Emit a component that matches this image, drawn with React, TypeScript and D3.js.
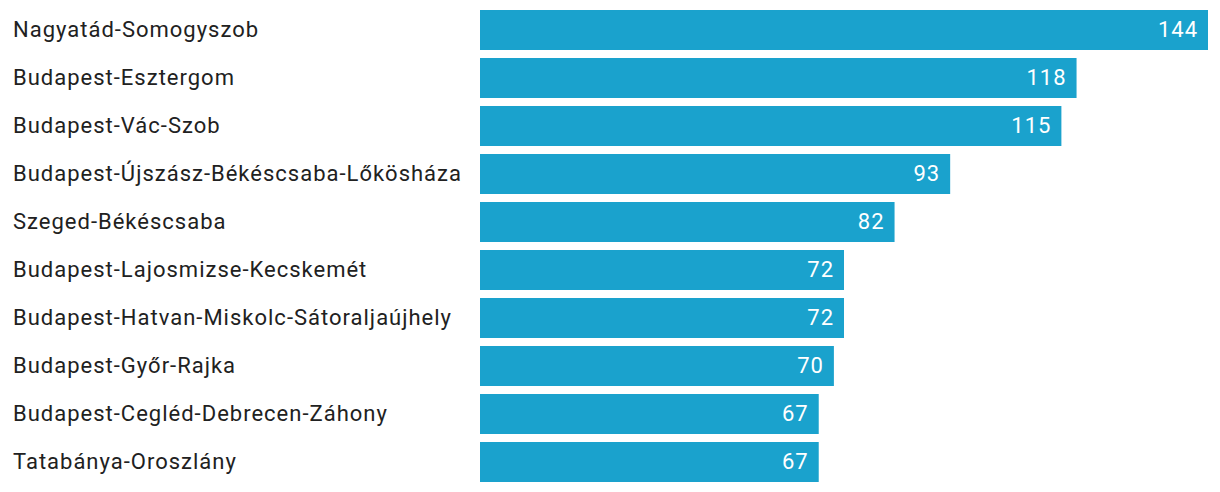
import React from "react";
import * as d3 from "d3";

const categories = [
  "Nagyatád-Somogyszob",
  "Budapest-Esztergom",
  "Budapest-Vác-Szob",
  "Budapest-Újszász-Békéscsaba-Lőkösháza",
  "Szeged-Békéscsaba",
  "Budapest-Lajosmizse-Kecskemét",
  "Budapest-Hatvan-Miskolc-Sátoraljaújhely",
  "Budapest-Győr-Rajka",
  "Budapest-Cegléd-Debrecen-Záhony",
  "Tatabánya-Oroszlány",
];
const values = [144, 118, 115, 93, 82, 72, 72, 70, 67, 67];

const W = 1220;
const H = 492;
const barLeft = 480;
const barRightMax = 1208;
const top = 10;
const step = 48;
const gap = 8;

export default function App() {
  const x = d3.scaleLinear().domain([0, 144]).range([barLeft, barRightMax]);
  const y = d3
    .scaleBand<string>()
    .domain(categories)
    .range([top, top + step * categories.length]);
  const bh = step - gap;
  return (
    <svg
      width={W}
      height={H}
      style={{ position: "absolute", left: 0, top: 0, display: "block" }}
      fontFamily="Roboto, sans-serif"
    >
      {categories.map((c, i) => {
        const y0 = y(c) as number;
        const v = values[i];
        return (
          <g key={c}>
            <text
              x={13}
              y={y0 + bh / 2}
              dy="0.33em"
              fontSize={22}
              letterSpacing={1}
              fill="#212121"
            >
              {c}
            </text>
            <rect x={x(0)} y={y0} width={x(v) - x(0)} height={bh} fill="#1aa2cd" />
            <text
              x={x(v) - 10}
              y={y0 + bh / 2}
              dy="0.33em"
              fontSize={22}
              letterSpacing={1}
              fill="#ffffff"
              textAnchor="end"
            >
              {v}
            </text>
          </g>
        );
      })}
    </svg>
  );
}
